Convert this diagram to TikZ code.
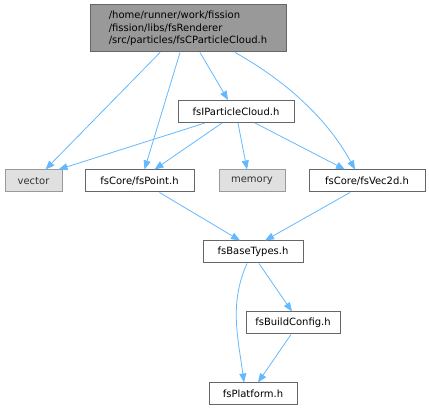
\documentclass[tikz,border=0pt]{standalone}
\usepackage{fontspec}
\setmainfont{DejaVu Sans}
\usetikzlibrary{arrows.meta}
\definecolor{edgeblue}{HTML}{63B8FF}
\definecolor{boxline}{HTML}{666666}
\definecolor{mainfill}{HTML}{999999}
\definecolor{sysfill}{HTML}{E0E0E0}
\begin{document}
\begin{tikzpicture}[x=1pt, y=-1pt, font=\fontsize{10}{12.5}\selectfont]
    % Stili per i nodi
    \tikzstyle{mainfile}=[rectangle, draw=boxline, fill=mainfill, align=left, minimum width=196pt, minimum height=47pt, inner sep=2pt, line width=1pt]
    \tikzstyle{header}=[rectangle, draw=boxline, fill=white, minimum height=22pt, inner sep=3pt, line width=1pt]
    \tikzstyle{syshdr}=[rectangle, draw=mainfill, fill=sysfill, text=black!80, minimum height=22pt, inner sep=3pt, line width=1pt]
    \tikzstyle{incl}=[-{Triangle[length=9pt, width=7pt]}, edgeblue, line width=0.8pt]

    \useasboundingbox (0,0) rectangle (429,411);

    % File principale
    \node[mainfile] (nMain) at (188,28.5) {/home/runner/work/fission\\/fission/libs/fsRenderer\\/src/particles/fsCParticleCloud.h};

    % Primo livello
    \node[header, minimum width=116pt] (nCloud) at (236,111.5) {fsIParticleCloud.h};

    % Secondo livello
    \node[syshdr, minimum width=57pt] (nVector) at (33.5,181) {vector};
    \node[header, minimum width=109pt] (nPoint) at (139.5,181) {fsCore/fsPoint.h};
    \node[syshdr, minimum width=66pt] (nMemory) at (252,181) {memory};
    \node[header, minimum width=116pt] (nVec2d) at (367,181) {fsCore/fsVec2d.h};

    % Tipi di base
    \node[header, minimum width=100pt] (nBase) at (253,252) {fsBaseTypes.h};
    \node[header, minimum width=94pt] (nConfig) at (293,323) {fsBuildConfig.h};
    \node[header, minimum width=88pt] (nPlatform) at (253,394) {fsPlatform.h};

    % Frecce dal file principale
    \draw[incl] ([xshift=-28pt]nMain.south) -- ([xshift=12pt]nVector.north);
    \draw[incl] ([xshift=-8pt]nMain.south) -- ([xshift=5pt]nPoint.north);
    \draw[incl] ([xshift=12pt]nMain.south) -- ([xshift=-8pt]nCloud.north);
    \draw[incl] ([xshift=47pt]nMain.south) .. controls +(45,25) and +(-30,-55) .. ([xshift=-12pt]nVec2d.north);

    % Frecce da fsIParticleCloud.h
    \draw[incl] ([xshift=-31pt]nCloud.south) -- ([xshift=-4pt]nVector.north east);
    \draw[incl] ([xshift=-14pt]nCloud.south) -- ([xshift=15pt]nPoint.north);
    \draw[incl] ([xshift=2pt]nCloud.south) -- ([xshift=-5pt]nMemory.north);
    \draw[incl] ([xshift=19pt]nCloud.south) -- ([xshift=-22pt]nVec2d.north);

    % Verso fsBaseTypes.h
    \draw[incl] ([xshift=20pt]nPoint.south) -- ([xshift=-13pt]nBase.north);
    \draw[incl] ([xshift=-17pt]nVec2d.south) -- ([xshift=12pt]nBase.north);

    % Da fsBaseTypes.h
    \draw[incl] ([xshift=6pt]nBase.south) -- ([xshift=-1pt]nConfig.north);
    \draw[incl] ([xshift=-6pt]nBase.south) .. controls +(-18,40) and +(-6,-45) .. ([xshift=-9pt]nPlatform.north);
    \draw[incl] ([xshift=-2pt]nConfig.south) -- ([xshift=5pt]nPlatform.north);
\end{tikzpicture}
\end{document}
